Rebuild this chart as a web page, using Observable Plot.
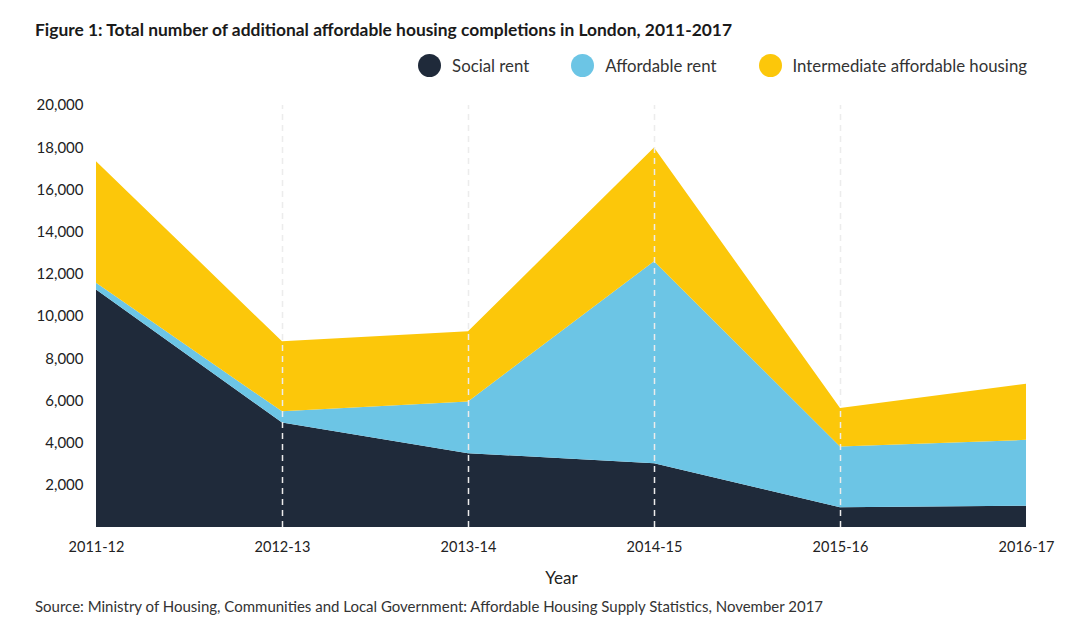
<!DOCTYPE html>
<html>
<head>
<meta charset="utf-8">
<script src="https://cdn.jsdelivr.net/npm/d3@7"></script>
<script src="https://cdn.jsdelivr.net/npm/@observablehq/plot@0.6"></script>
<style>
  html, body { margin: 0; padding: 0; background: #fff; }
  body { width: 1068px; height: 642px; position: relative; font-family: Lato, "Open Sans", sans-serif; color: #222; }
  #title { position: absolute; left: 35px; top: 19px; font-size: 17.4px; font-weight: 700; color: #1a1a1a; white-space: nowrap; }
  #legend { position: absolute; right: 41px; top: 54px; display: flex; align-items: center; font-size: 16.8px; color: #333; }
  .item { display: flex; align-items: center; margin-left: 42px; }
  .dot { width: 23px; height: 23px; border-radius: 50%; margin-right: 11px; }
  #chart { position: absolute; left: 0; top: 90px; }
  #source { position: absolute; left: 35px; top: 597px; font-size: 15px; color: #333; white-space: nowrap; }
</style>
</head>
<body>
<div id="title">Figure 1: Total number of additional affordable housing completions in London, 2011-2017</div>
<div id="legend"></div>
<div id="chart"></div>
<div id="source">Source: Ministry of Housing, Communities and Local Government: Affordable Housing Supply Statistics, November 2017</div>
<script>
const years = ["2011-12", "2012-13", "2013-14", "2014-15", "2015-16", "2016-17"];
const seriesNames = ["Social rent", "Affordable rent", "Intermediate affordable housing"];
const seriesColors = ["#1f2a3a", "#6cc5e5", "#fcc70a"];
const socialRent = [11260, 4950, 3500, 3020, 940, 1010];
const affordableRent = [310, 530, 2450, 9580, 2880, 3120];
const intermediate = [5770, 3320, 3330, 5390, 1820, 2660];
const yTicks = [2000, 4000, 6000, 8000, 10000, 12000, 14000, 16000, 18000, 20000];

const seriesValues = [socialRent, affordableRent, intermediate];
const data = [];
seriesNames.forEach((name, i) => {
  years.forEach((yr, j) => data.push({year: yr, type: name, value: seriesValues[i][j]}));
});

// legend
const legend = document.getElementById("legend");
seriesNames.forEach((n, i) => {
  const it = document.createElement("div");
  it.className = "item";
  it.innerHTML = `<span class="dot" style="background:${seriesColors[i]}"></span><span>${n}</span>`;
  legend.appendChild(it);
});

const chart = Plot.plot({
  width: 1068,
  height: 510,
  marginLeft: 95,
  marginRight: 41,
  marginTop: 15,
  marginBottom: 73,
  style: {fontFamily: "Lato, 'Open Sans', sans-serif", fontSize: "15px", color: "#222", background: "#fff"},
  x: {type: "point", domain: years, padding: 0},
  y: {domain: [0, 20000]},
  color: {domain: seriesNames, range: seriesColors},
  marks: [
    Plot.ruleY(yTicks, {x1: years[0], x2: years[years.length - 1], stroke: "#e6e6e6", strokeWidth: 1.5}),
    Plot.areaY(data, {x: "year", y: "value", z: "type", fill: "type", order: seriesNames, curve: "linear"}),
    Plot.ruleX(years.slice(1, -1), {y1: 0, y2: 20000, stroke: "#ececec", strokeWidth: 1.5, strokeDasharray: "6,5"}),
    Plot.ruleY([0], {x1: years[0], x2: years[years.length - 1], stroke: "#e6e6e6", strokeWidth: 1}),
    Plot.axisY(yTicks, {tickFormat: d3.format(","), tickSize: 0, tickPadding: 12, label: null, fontSize: 15}),
    Plot.axisX({tickSize: 0, tickPadding: 14, fontSize: 14.5, label: "Year", labelAnchor: "center", labelOffset: 56, labelArrow: "none"})
  ]
});
d3.select(chart).selectAll('[aria-label="x-axis label"]').attr("font-size", 17);
document.getElementById("chart").appendChild(chart);
</script>
</body>
</html>
